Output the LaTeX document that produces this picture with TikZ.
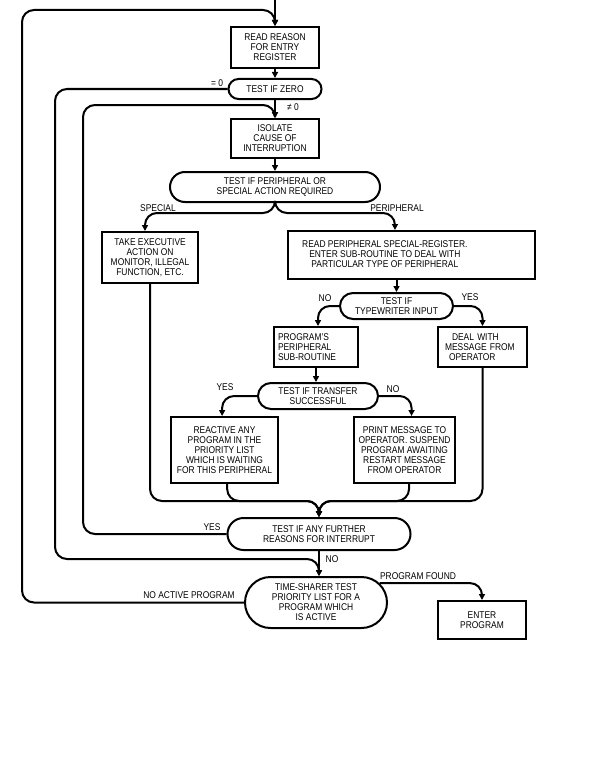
\documentclass[tikz,border=0pt]{standalone}
\usepackage{fontspec}
\setmainfont{Liberation Sans}[FakeStretch=0.86]
\usetikzlibrary{shapes.misc,arrows.meta}
\newcommand\dfont{\fontsize{7.35pt}{7.5pt}\selectfont}
\begin{document}
\begin{tikzpicture}[x=0.75pt,y=-0.75pt,
  base/.style={draw, line width=1.5pt, inner sep=0pt, font=\dfont},
  proc/.style={base, rectangle, align=center},
  procx/.style={base, rectangle},
  dec/.style={base, rounded rectangle, align=center},
  arr/.style={line width=1.5pt, -{Triangle[length=4.5pt,width=4.5pt]}, rounded corners=9pt},
  lab/.style={font=\dfont, inner sep=0pt}]
\path[fill=white] (0,0) rectangle (594,774);
\useasboundingbox (0,0) rectangle (594,774);

% nodes
\node[proc, minimum width=66pt, minimum height=30.75pt] (r1) at (275,47.5) {READ REASON\\FOR ENTRY\\REGISTER};
\node[dec, minimum width=69.75pt, minimum height=15pt] (tz) at (275,89) {TEST IF ZERO};
\node[proc, minimum width=66pt, minimum height=29.25pt] (iso) at (275,138.5) {ISOLATE\\CAUSE OF\\INTERRUPTION};
\node[dec, minimum width=157.5pt, minimum height=22.5pt] (tp) at (275,187) {TEST IF PERIPHERAL OR\\SPECIAL ACTION REQUIRED};
\node[proc, minimum width=72pt, minimum height=38.25pt] (sp) at (150,257.5) {TAKE EXECUTIVE\\ACTION ON\\MONITOR, ILLEGAL\\FUNCTION, ETC.};
\node[procx, minimum width=185.25pt, minimum height=36pt] (rp) at (411.5,255) {\begin{tabular}{@{}c@{}}READ PERIPHERAL SPECIAL-REGISTER.\\ENTER SUB-ROUTINE TO DEAL WITH\\PARTICULAR TYPE OF PERIPHERAL\end{tabular}\hspace*{40pt}};
\node[dec, minimum width=84.75pt, minimum height=19.5pt] (tw) at (396.5,306) {TEST IF\\TYPEWRITER INPUT};
\node[proc, align=left, text width=57pt, minimum width=63pt, minimum height=30pt] (ps) at (316,347) {PROGRAM'S\\PERIPHERAL\\SUB-ROUTINE};
\node[proc, align=left, text width=56.25pt, minimum width=66.75pt, minimum height=30pt] (dm) at (482.5,347) {\hspace*{5.25pt}DEAL WITH\\MESSAGE FROM\\\hspace*{3pt}OPERATOR};
\node[dec, minimum width=90pt, minimum height=19.5pt] (tt) at (318,396) {TEST IF TRANSFER\\SUCCESSFUL};
\node[proc, minimum width=80.25pt, minimum height=49.5pt] (ra) at (224.5,450) {REACTIVE ANY\\PROGRAM IN THE\\PRIORITY LIST\\WHICH IS WAITING\\FOR THIS PERIPHERAL};
\node[proc, minimum width=75.75pt, minimum height=49.5pt] (pm) at (404.5,450) {PRINT MESSAGE TO\\OPERATOR. SUSPEND\\PROGRAM AWAITING\\RESTART MESSAGE\\FROM OPERATOR};
\node[dec, minimum width=137.25pt, minimum height=24pt] (ta) at (319,534) {TEST IF ANY FURTHER\\REASONS FOR INTERRUPT};
\node[dec, minimum width=106.5pt, minimum height=38.25pt] (ts) at (316,602.5) {TIME-SHARER TEST\\PRIORITY LIST FOR A\\PROGRAM WHICH\\IS ACTIVE};
\node[proc, minimum width=66pt, minimum height=28.5pt] (ep) at (482,620) {ENTER\\PROGRAM};

% labels
\node[lab] (lz) at (217,83) {= 0};
\node[lab] (lnz) at (293,107) {≠ 0};
\node[lab] (lsp) at (158,208) {SPECIAL};
\node[lab] (lpe) at (397,208) {PERIPHERAL};
\node[lab] (lno1) at (325,298) {NO};
\node[lab] (lyes1) at (470,297) {YES};
\node[lab] (lyes2) at (225,387) {YES};
\node[lab] (lno2) at (393,389) {NO};
\node[lab] (lyes3) at (212,527) {YES};
\node[lab] (lno3) at (332,559) {NO};
\node[lab] (lpf) at (418,576) {PROGRAM FOUND};
\node[lab] (lnap) at (189,595) {NO ACTIVE PROGRAM};

% loop corners
\coordinate (entry) at (275,0);
\coordinate (c1) at (22,10);
\coordinate (c2) at (55,559);
\coordinate (c3) at (83,105);

% connectors
\draw[arr] (entry) -- (r1.north);
\draw[arr] (r1.south) -- (r1.south |- tz.north);
\draw[arr] (tz.south) -- (tz.south |- iso.north);
\draw[arr] (iso.south) -- (iso.south |- tp.north);
\draw[arr] (tp.south) |- ([xshift=-3.75pt,yshift=13.5pt]sp.north) -- ([xshift=-3.75pt]sp.north);
\draw[arr] (tp.south) |- ([xshift=-12.4pt,yshift=12.75pt]rp.north) -- ([xshift=-12.4pt]rp.north);
\draw[arr] (tw.north |- rp.south) -- (tw.north);
\draw[arr] (tw.west) -| ([xshift=1.5pt]ps.north);
\draw[arr] (tw.east) -| (dm.north);
\draw[arr] (ps.south) -- (ps.south |- tt.north);
\draw[arr] (tt.west) -| ([xshift=-1.8pt]ra.north);
\draw[arr] (tt.east) -| ([xshift=5.3pt]pm.north);
\draw[arr] (sp.south) |- ([yshift=12pt]ta.north) -- (ta.north);
\draw[arr] ([xshift=2pt]ra.south) |- ([yshift=12pt]ta.north) -- (ta.north);
\draw[arr] ([xshift=3.4pt]pm.south) |- ([yshift=12pt]ta.north) -- (ta.north);
\draw[arr] (dm.south) |- ([yshift=12pt]ta.north) -- (ta.north);
\draw[arr] (ta.south) -- (ta.south |- ts.north);
\draw[arr] (tz.west) -| (c2) -| (ta.south |- ts.north);
\draw[arr] (ta.west) -| (c3) -| (iso.north);
\draw[arr] (ts.west) -| (c1) -| (r1.north);
\draw[arr] (ts.17) -| (ep.north);
\end{tikzpicture}
\end{document}
